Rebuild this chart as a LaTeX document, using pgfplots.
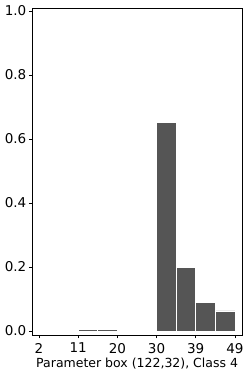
\documentclass[border=0pt]{standalone}
\usepackage{pgfplots}
\pgfplotsset{compat=1.18}
\usepackage{fontspec}
\setmainfont{DejaVu Sans}
\definecolor{bargray}{RGB}{85,85,85}
\begin{document}
\begin{tikzpicture}
\useasboundingbox (0,0) rectangle (250pt,377pt);
\begin{axis}[
  at={(32.3pt,42pt)}, anchor=south west,
  scale only axis,
  width=209.7pt, height=327pt,
  xmin=0.4, xmax=50.7,
  ymin=-0.0125, ymax=1.0094,
  axis on top,
  axis line style={black, line width=0.7pt},
  xtick={2,11.4,20.8,30.2,39.6,49},
  xticklabels={2,11,20,30,39,49},
  ytick={0,0.2,0.4,0.6,0.8,1.0},
  yticklabel style={/pgf/number format/fixed, /pgf/number format/fixed zerofill, /pgf/number format/precision=1, xshift=1pt},
  xticklabel style={yshift=-1pt},
  /pgf/number format/assume math mode=true,
  tick label style={font=\fontsize{13.5}{15}\selectfont},
  tick align=outside, tick pos=left,
  major tick length=3.5pt,
  tick style={black, line width=0.6pt},
  xlabel={Parameter box (122,32), Class 4},
  xlabel style={font=\fontsize{12.5}{14}\selectfont, yshift=2pt},
]
\addplot[ybar interval, fill=bargray, draw=white, line width=0.7pt] coordinates {
  (11.4,0.005) (16.1,0.005) (20.8,0.005)
};
\addplot[ybar interval, fill=bargray, draw=white, line width=0.7pt] coordinates {
  (30.2,0.653) (34.9,0.198) (39.6,0.088) (44.3,0.0625) (49,0.0625)
};
\end{axis}
\end{tikzpicture}
\end{document}
